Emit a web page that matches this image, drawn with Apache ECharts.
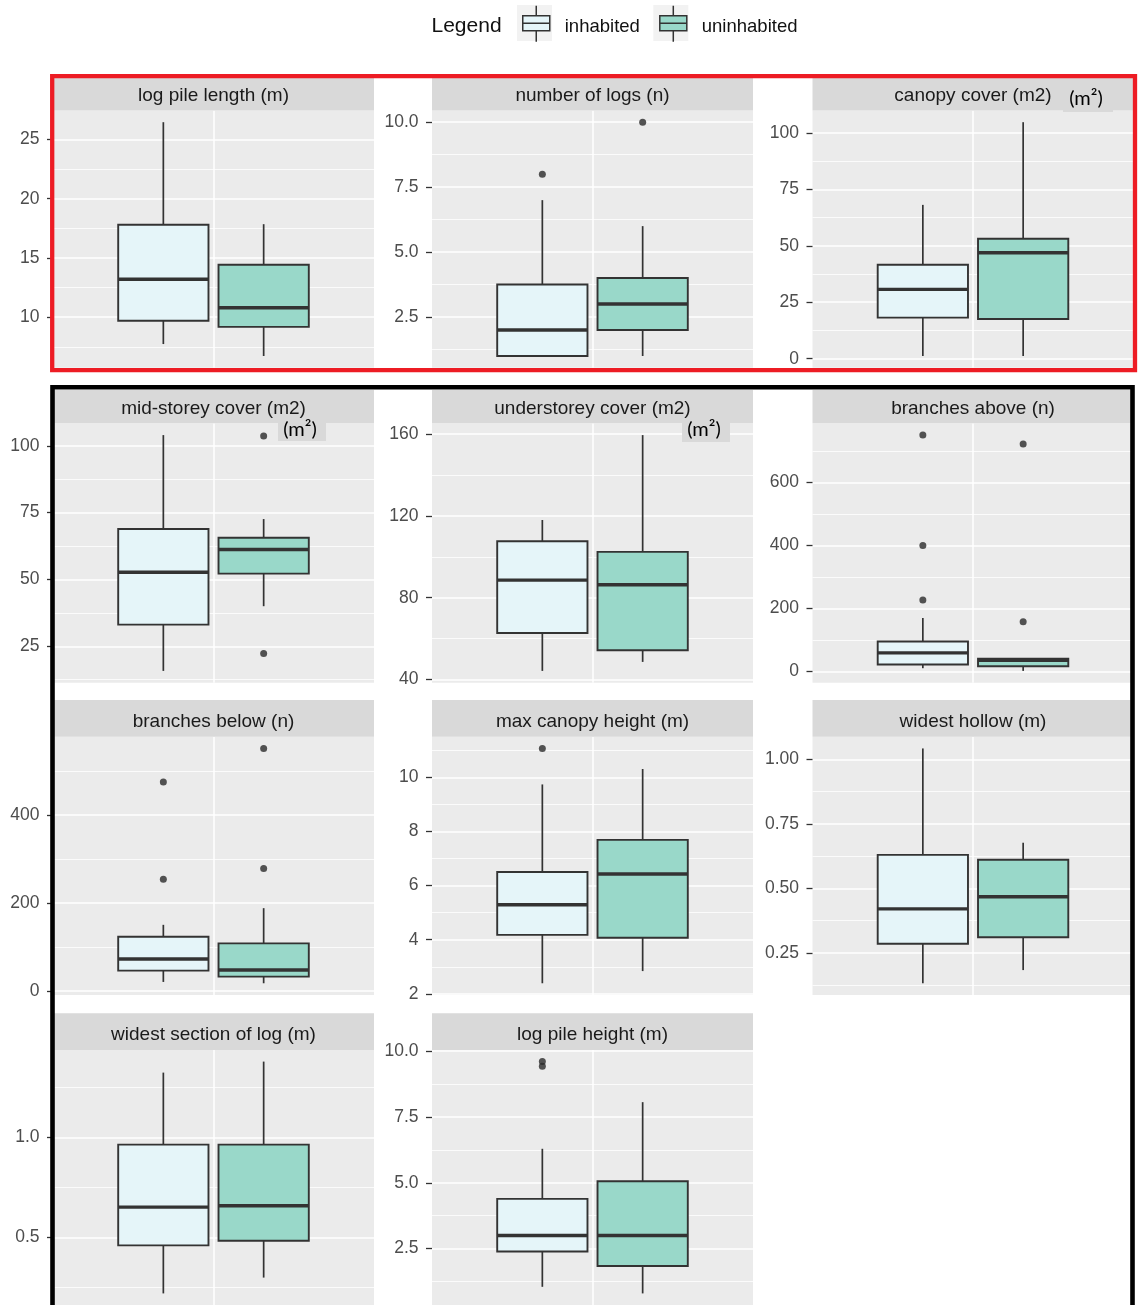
<!DOCTYPE html>
<html><head><meta charset="utf-8">
<script src="https://cdn.jsdelivr.net/npm/echarts@6/dist/echarts.min.js"></script>
<style>html,body{margin:0;padding:0;background:#fff}#chart{width:1143px;height:1305px}</style>
</head><body><div id="chart"></div>
<script>
// ---------------- data ----------------
const facets = [
  'log pile length (m)', 'number of logs (n)', 'canopy cover (m2)',
  'mid-storey cover (m2)', 'understorey cover (m2)', 'branches above (n)',
  'branches below (n)', 'max canopy height (m)', 'widest hollow (m)',
  'widest section of log (m)', 'log pile height (m)'
];
const groups = ['inhabited', 'uninhabited'];
// [lower whisker, Q1, median, Q3, upper whisker]
const inhabitedBox = [
  [7.73, 9.7, 13.2, 17.8, 26.46],
  [1, 1, 2, 3.75, 7],
  [1.2, 18.2, 30.7, 41.6, 68.1],
  [15.8, 33.1, 52.7, 68.9, 104],
  [44.2, 62.7, 88.6, 107.6, 118],
  [10.8, 22.3, 59.5, 95.4, 170],
  [21, 46.7, 73.2, 123.7, 150.8],
  [2.39, 4.18, 5.29, 6.5, 9.74],
  [0.133, 0.286, 0.421, 0.63, 1.042],
  [0.221, 0.461, 0.652, 0.964, 1.324],
  [1.05, 2.39, 3.0, 4.39, 6.29]
];
const uninhabitedBox = [
  [6.72, 9.18, 10.8, 14.43, 17.85],
  [1, 2, 3, 4, 6],
  [1.2, 17.6, 46.9, 53.1, 104.7],
  [40, 52.2, 61.2, 65.6, 72.6],
  [48.6, 54.3, 86.3, 102.4, 159.5],
  [2.2, 17, 36, 41, 41],
  [18, 33, 48.2, 108.7, 188.7],
  [2.84, 4.07, 6.43, 7.69, 10.31],
  [0.184, 0.311, 0.468, 0.611, 0.677],
  [0.3, 0.484, 0.659, 0.964, 1.379],
  [0.8, 1.84, 3.0, 5.06, 8.06]
];
const inhabitedOutliers = [[], [8], [], [], [], [750, 400, 227], [475.6, 254.4], [11.07], [], [], [9.6, 9.42]];
const uninhabitedOutliers = [[], [10], [], [103.7, 22.3], [], [722, 158], [551.7, 278.6], [], [], [], []];
const majorTicks = [
  [10, 15, 20, 25],
  [2.5, 5, 7.5, 10],
  [0, 25, 50, 75, 100],
  [25, 50, 75, 100],
  [40, 80, 120, 160],
  [0, 200, 400, 600, 800],
  [0, 200, 400, 600],
  [2, 4, 6, 8, 10],
  [0.25, 0.5, 0.75, 1],
  [0.5, 1],
  [2.5, 5, 7.5, 10]
];
const unitNotes = ['(m²)', '(m²)', '(m²)'];

// ---------------- layout / style ----------------
const colLeft = [53, 432, 812.5], panelW = 321;
const stripTop = [78, 390, 700, 1013.3];
const plotTop = [110.5, 423.3, 736.7, 1050];
const plotH = [257.2, 259.4, 258.3, 259];
const stripTextShift = [1.5, 2, 3.5, 3];
const FILL = { inhabited: '#e5f5f9', uninhabited: '#99d8c9' };
const INK = '#333333';
const DODGE = 0.375, BOXW = 0.3375;
const FONT = '"Liberation Sans", Arial, sans-serif';

function decimals(arr) {
  return Math.max.apply(null, arr.map(v => { const s = String(v); const k = s.indexOf('.'); return k < 0 ? 0 : s.length - k - 1; }));
}

function renderBox(params, api) {
  const x = api.value(0);
  const p = k => api.coord([x, api.value(k)]);
  const lo = p(1), q1 = p(2), med = p(3), q3 = p(4), hi = p(5);
  const hw = api.size([BOXW, 0])[0] / 2;
  return {
    type: 'group', children: [
      { type: 'line', shape: { x1: lo[0], y1: lo[1], x2: q1[0], y2: q1[1] }, style: { stroke: INK, lineWidth: 1.7 } },
      { type: 'line', shape: { x1: q3[0], y1: q3[1], x2: hi[0], y2: hi[1] }, style: { stroke: INK, lineWidth: 1.7 } },
      { type: 'rect', shape: { x: q3[0] - hw, y: q3[1], width: 2 * hw, height: q1[1] - q3[1] }, style: { fill: api.visual('color'), stroke: INK, lineWidth: 1.9 } },
      { type: 'line', shape: { x1: med[0] - hw, y1: med[1], x2: med[0] + hw, y2: med[1] }, style: { stroke: INK, lineWidth: 3.4 } }
    ]
  };
}

const grids = [], xAxes = [], yAxes = [], series = [], graphics = [];

facets.forEach((name, i) => {
  const col = i % 3, row = Math.floor(i / 3);
  const left = colLeft[col], top = plotTop[row], h = plotH[row];
  grids.push({ left, top, width: panelW, height: h, show: true, backgroundColor: '#ebebeb', borderWidth: 0 });

  const boxes = [inhabitedBox[i], uninhabitedBox[i]];
  const outs = [inhabitedOutliers[i], uninhabitedOutliers[i]];
  const all = boxes[0].concat(boxes[1], outs[0], outs[1]);
  const dmin = Math.min.apply(null, all), dmax = Math.max.apply(null, all);
  const pad = (dmax - dmin) * 0.05;
  const ymin = dmin - pad, ymax = dmax + pad;
  const mt = majorTicks[i];
  const step = mt[1] - mt[0];
  const majors = mt.filter(v => v >= ymin && v <= ymax);
  const minors = [mt[0] - step / 2].concat(mt.map(v => v + step / 2)).filter(v => v >= ymin && v <= ymax);
  const dec = decimals(mt);

  xAxes.push({
    gridIndex: i, type: 'value', min: 0.4, max: 1.6,
    axisLine: { show: false }, axisLabel: { show: false },
    axisTick: { show: false, customValues: [1] },
    splitLine: { show: true, lineStyle: { color: '#ffffff', width: 1.5 } }
  });
  yAxes.push({
    gridIndex: i, type: 'value', min: ymin, max: ymax, position: 'left',
    axisLine: { show: false },
    axisTick: { show: true, length: 6, lineStyle: { color: INK, width: 1.3 }, customValues: majors },
    axisLabel: { show: true, customValues: majors, formatter: v => Number(v).toFixed(dec), color: '#4d4d4d', fontSize: 17.5, fontFamily: FONT, margin: 13.5 },
    splitLine: { show: true, lineStyle: { color: '#ffffff', width: 1.5 } }
  });
  yAxes.push({
    gridIndex: i, type: 'value', min: ymin, max: ymax, position: 'left',
    axisLine: { show: false }, axisLabel: { show: false },
    axisTick: { show: false, customValues: minors },
    splitLine: { show: true, lineStyle: { color: '#ffffff', width: 0.8 } }
  });

  groups.forEach((g, gi) => {
    const x = 1 + (gi - 0.5) * DODGE;
    series.push({
      name: g, type: 'custom', xAxisIndex: i, yAxisIndex: 2 * i, renderItem: renderBox,
      encode: { x: 0, y: [1, 2, 3, 4, 5] }, data: [[x].concat(boxes[gi])],
      itemStyle: { color: FILL[g] }, z: 3, silent: true
    });
    if (outs[gi].length) {
      series.push({
        name: g, type: 'scatter', xAxisIndex: i, yAxisIndex: 2 * i,
        data: outs[gi].map(v => [x, v]), symbolSize: 7,
        itemStyle: { color: '#2b2b2b' }, z: 4, silent: true
      });
    }
  });

  // facet strip
  graphics.push({ type: 'rect', z: 1, shape: { x: left, y: stripTop[row], width: panelW, height: top - stripTop[row] }, style: { fill: '#d9d9d9' } });
  graphics.push({ type: 'text', z: 2, x: left + panelW / 2, y: (stripTop[row] + top) / 2 + stripTextShift[row],
    style: { text: name, fill: '#1a1a1a', font: '19px ' + FONT, align: 'center', verticalAlign: 'middle' } });
});

// unit annotations pasted on the figure
const notePos = [[1063, 88, 50, 24], [278, 420, 48, 21], [682, 420, 48, 22]];
notePos.forEach((r, k) => {
  graphics.push({ type: 'rect', z: 10, shape: { x: r[0], y: r[1], width: r[2], height: r[3] }, style: { fill: '#d9d9d9' } });
  graphics.push({ type: 'text', z: 11, x: r[0] + r[2] / 2 - 2, y: r[1] + r[3] / 2 - 1,
    style: { text: unitNotes[k], fill: '#000', font: '20px Lato, "Open Sans", sans-serif', align: 'center', verticalAlign: 'middle' } });
});

// legend title & key backgrounds
graphics.push({ type: 'text', z: 5, x: 431.5, y: 26, style: { text: 'Legend', fill: '#111', font: '21px ' + FONT, align: 'left', verticalAlign: 'middle' } });
graphics.push({ type: 'rect', z: 0, shape: { x: 517, y: 5, width: 35, height: 36 }, style: { fill: '#f2f2f2' } });
graphics.push({ type: 'rect', z: 0, shape: { x: 653.3, y: 5, width: 35, height: 36 }, style: { fill: '#f2f2f2' } });

// highlight frames
graphics.push({ type: 'rect', z: 30, shape: { x: 52.2, y: 76.2, width: 1082.8, height: 294 }, style: { fill: 'none', stroke: '#ed1c24', lineWidth: 4.3 } });
graphics.push({ type: 'rect', z: 30, shape: { x: 52.5, y: 387.2, width: 1080, height: 1400 }, style: { fill: 'none', stroke: '#000', lineWidth: 4.6 } });

const KEY_ICON = 'path://M0 0M42 36M5 10L32 10L32 25L5 25ZM5 17.5L32 17.5M18.5 0L18.5 10M18.5 25L18.5 36';

const chart = echarts.init(document.getElementById('chart'), null, { renderer: 'canvas' });
chart.setOption({
  animation: false,
  backgroundColor: '#ffffff',
  legend: {
    left: 517, top: 5, padding: 0, itemGap: 14.2, itemWidth: 42, itemHeight: 36, selectedMode: false,
    data: groups.map(g => ({ name: g, icon: KEY_ICON, itemStyle: { color: FILL[g], borderColor: INK, borderWidth: 1.5 } })),
    formatter: '{t|{name}}',
    textStyle: { fontSize: 18.5, color: '#111', fontFamily: FONT,
      rich: { t: { fontSize: 18.5, color: '#111', fontFamily: FONT, padding: [6, 0, 0, 0] } } }
  },
  grid: grids, xAxis: xAxes, yAxis: yAxes, series: series,
  graphic: { elements: graphics }
});
</script></body></html>
